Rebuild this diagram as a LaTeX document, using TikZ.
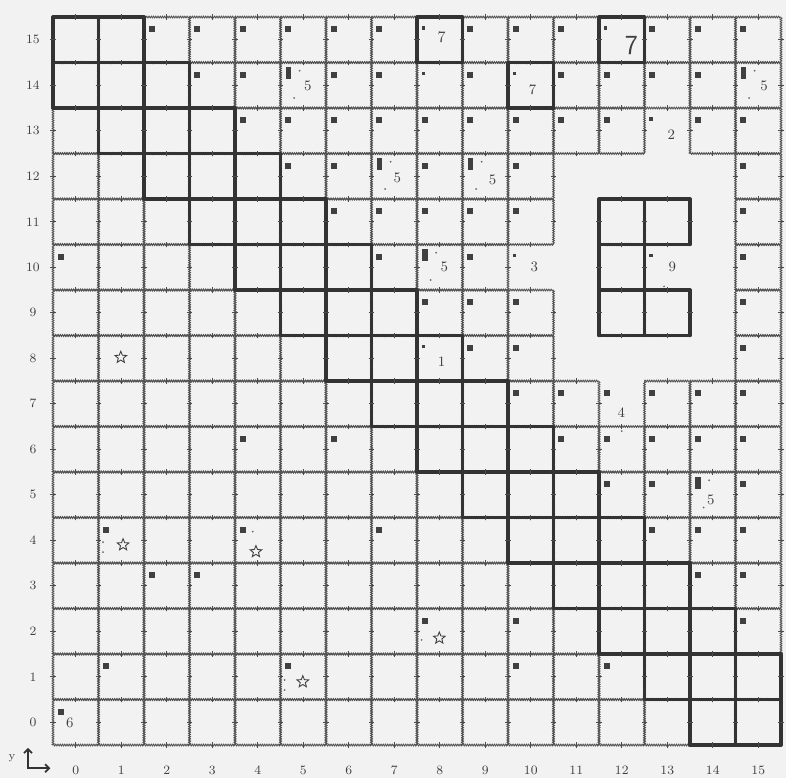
\documentclass[tikz,border=0pt]{standalone}
\usetikzlibrary{decorations.pathmorphing,shapes.geometric,arrows.meta}

\tikzset{
  dotedge/.style={draw=black!68, line width=0.55pt, decorate,
    decoration={zigzag, amplitude=0.55pt, segment length=1.4pt}},
  boldedge/.style={draw=black!80, line width=2.1pt, line cap=round},
  notch/.style={draw=black!70, line width=0.7pt},
  markbox/.style={fill=black!75},
  speck/.style={fill=black!60},
  celltext/.style={font=\small, text=black!75, inner sep=0pt},
  axistext/.style={font=\footnotesize, text=black!75, inner sep=0pt},
  starmark/.style={star, star points=5, star point ratio=2.3, draw=black!75,
    line width=0.55pt, minimum size=0.27cm, inner sep=0pt},
  axisarrow/.style={draw=black!80, line width=1.1pt, {Straight Barb[length=2.5pt]}-{Straight Barb[length=2.5pt]}}
}

% the four sides of one cell, always left to right and bottom to top
\newcommand{\cellsides}[3]{%
  \draw[#3] (#1,#2) -- ++(1,0);
  \draw[#3] (#1,#2+1) -- ++(1,0);
  \draw[#3] (#1,#2) -- ++(0,1);
  \draw[#3] (#1+1,#2) -- ++(0,1);
  \draw[notch] (#1+0.5,#2-0.06) -- ++(0,0.12);
  \draw[notch] (#1+0.5,#2+0.94) -- ++(0,0.12);
  \draw[notch] (#1-0.06,#2+0.5) -- ++(0.12,0);
  \draw[notch] (#1+0.94,#2+0.5) -- ++(0.12,0);
}
% cells that are left out of the grid
\newcommand{\holecell}[2]{\expandafter\def\csname hole-#1-#2\endcsname{}}
\holecell{13}{13}
\holecell{11}{12}\holecell{12}{12}\holecell{13}{12}\holecell{14}{12}
\holecell{11}{11}\holecell{14}{11}
\holecell{10}{10}\holecell{11}{10}\holecell{13}{10}\holecell{14}{10}
\holecell{11}{9}\holecell{14}{9}
\holecell{11}{8}\holecell{12}{8}\holecell{13}{8}\holecell{14}{8}
\holecell{12}{7}

\begin{document}
\begin{tikzpicture}
  \useasboundingbox[fill=black!5] (-1.165,-0.725) rectangle (16.11,16.375);

  % plain cells
  \foreach \ry in {0,...,15}{
    \foreach \cx in {0,...,15}{
      \ifcsname hole-\cx-\ry\endcsname\else
        \cellsides{\cx}{\ry}{dotedge}
      \fi
    }
  }

  % diagonal band
  \foreach \ry in {0,...,15}{
    \foreach \k in {-1,0,1}{
      \pgfmathtruncatemacro{\cx}{15-\ry+\k}
      \ifnum\cx>-1 \ifnum\cx<16
        \cellsides{\cx}{\ry}{boldedge}
      \fi\fi
    }
  }
  % single bold cells and the island
  \foreach \cx/\ry in {8/15,12/15,10/14,12/11,13/11,12/10,12/9,13/9}{
    \cellsides{\cx}{\ry}{boldedge}
  }

  % corner marks
  \foreach \cx/\ry in {2/15,3/15,4/15,5/15,6/15,7/15,9/15,10/15,11/15,13/15,14/15,15/15,
      3/14,4/14,6/14,7/14,9/14,11/14,12/14,13/14,14/14,
      4/13,5/13,6/13,7/13,8/13,9/13,10/13,11/13,12/13,14/13,15/13,
      5/12,6/12,8/12,10/12,15/12,
      6/11,7/11,8/11,9/11,10/11,15/11,
      0/10,7/10,9/10,15/10,
      8/9,9/9,10/9,15/9,
      9/8,10/8,15/8,
      10/7,11/7,12/7,13/7,14/7,15/7,
      4/6,6/6,11/6,12/6,13/6,14/6,15/6,
      12/5,13/5,15/5,
      1/4,4/4,7/4,13/4,14/4,15/4,
      2/3,3/3,14/3,15/3,
      8/2,10/2,15/2,
      1/1,5/1,10/1,12/1,
      0/0}{
    \fill[markbox] (\cx+0.1,\ry+0.67) rectangle ++(0.14,0.13);
  }
  \foreach \cx/\ry in {8/15,12/15,8/14,10/14,13/13,10/10,13/10,8/8}{
    \fill[markbox] (\cx+0.1,\ry+0.72) rectangle ++(0.08,0.08);
  }
  \foreach \cx/\ry in {5/14,15/14,7/12,9/12,8/10,14/5}{
    \fill[markbox] (\cx+0.12,\ry+0.63) rectangle ++(0.12,0.27);
    \fill[speck] (\cx+0.42,\ry+0.82) circle (0.6pt);
    \fill[speck] (\cx+0.3,\ry+0.22) circle (0.6pt);
  }

  % numbers in cells
  \node[celltext, font=\normalsize] (seven-a) at (8.54,15.56) {7};
  \node[celltext, font=\LARGE\sffamily] (seven-b) at (12.71,15.38) {7};
  \node[celltext] (seven-c) at (10.54,14.41) {7};
  \node[celltext] (five-a) at (5.6,14.48) {5};
  \node[celltext] (five-b) at (15.63,14.48) {5};
  \node[celltext] (five-c) at (7.57,12.46) {5};
  \node[celltext] (five-d) at (9.66,12.43) {5};
  \node[celltext] (five-e) at (8.6,10.5) {5};
  \node[celltext] (five-f) at (14.46,5.39) {5};
  \node[celltext] (one) at (8.54,8.43) {1};
  \node[celltext] (two) at (13.59,13.42) {2};
  \node[celltext] (three) at (10.58,10.5) {3};
  \node[celltext] (nine) at (13.61,10.5) {9};
  \node[celltext] (four) at (12.49,7.31) {4};
  \node[celltext] (six) at (0.37,0.48) {6};

  % stars
  \node[starmark] (star-a) at (1.49,8.52) {};
  \node[starmark] (star-b) at (1.54,4.4) {};
  \node[starmark] (star-c) at (4.46,4.25) {};
  \node[starmark] (star-d) at (8.49,2.35) {};
  \node[starmark] (star-e) at (5.49,1.39) {};

  % specks
  \foreach \px/\py in {1.1/4.46,1.1/4.24,5.09/1.43,5.09/1.21,8.1/2.31,4.39/4.69,13.43/10.08,12.5/6.9}{
    \fill[speck] (\px,\py) circle (0.6pt);
  }

  % axis numbers
  \foreach \k in {0,...,15}{
    \node[axistext] (ylab-\k) at (-0.44,\k+0.5) {\k};
    \node[axistext] (xlab-\k) at (\k+0.5,-0.55) {\k};
  }

  % axis sign
  \coordinate (axis-o) at (-0.55,-0.51);
  \coordinate (axis-y) at (-0.55,-0.06);
  \coordinate (axis-x) at (-0.06,-0.51);
  \draw[axisarrow] (axis-y) -- (axis-o) -- (axis-x);
  \node[axistext, font=\scriptsize] (axis-name) at (-0.9,-0.29) {y};
\end{tikzpicture}
\end{document}
